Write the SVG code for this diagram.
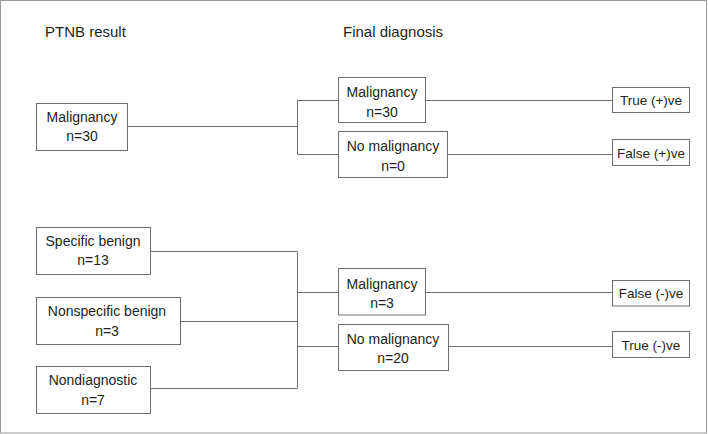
<svg xmlns="http://www.w3.org/2000/svg" width="708" height="434" viewBox="0 0 708 434">
<style>
.box{fill:#fff;stroke:#6d6d6d;stroke-width:1}
.ln{fill:none;stroke:#6d6d6d;stroke-width:1}
text{font-family:"Liberation Sans",Arial,sans-serif;fill:#231f20}
.h{font-size:15px}
.t{font-size:14px;text-anchor:middle}
.s{font-size:13.5px;text-anchor:middle}
</style>
<rect x="0.5" y="0.5" width="706" height="432.5" fill="#fff" stroke="#9a9a9a" stroke-width="1"/>
<text class="h" x="45" y="37">PTNB result</text>
<text class="h" x="343" y="37">Final diagnosis</text>
<g id="connectors">
<path class="ln" d="M127.5 126.5H297.5M297.5 100.5V154.5M297.5 100.5H338.5M297.5 154.5H338.5"/>
<path class="ln" d="M425.5 100.5H612.5M447.5 154.5H612.5"/>
<path class="ln" d="M150.5 251.5H297.5M180.5 321.5H297.5M150.5 388.5H297.5M297.5 251.5V388.5M297.5 292.5H338.5M297.5 346.5H338.5"/>
<path class="ln" d="M425.5 292.5H612.5M448.5 346.5H612.5"/>
</g>
<g id="ptnb-malignancy"><rect class="box" x="36.5" y="103.5" width="91" height="47"/><text class="t" x="82" y="122">Malignancy</text><text class="t" x="82" y="141">n=30</text></g>
<g id="fd-malignancy-30"><rect class="box" x="338.5" y="77.5" width="87" height="45"/><text class="t" x="382" y="97">Malignancy</text><text class="t" x="382" y="116.5">n=30</text></g>
<g id="fd-nomalignancy-0"><rect class="box" x="338.5" y="131.5" width="109" height="46"/><text class="t" x="393" y="150.5">No malignancy</text><text class="t" x="393" y="171">n=0</text></g>
<g id="true-pos"><rect class="box" x="612.5" y="87.5" width="77" height="25"/><text class="s" x="651" y="105">True (+)ve</text></g>
<g id="false-pos"><rect class="box" x="612.5" y="139.5" width="77" height="26"/><text class="s" x="651" y="157.5">False (+)ve</text></g>
<g id="specific-benign"><rect class="box" x="36.5" y="227.5" width="114" height="47"/><text class="t" x="93" y="245.5">Specific benign</text><text class="t" x="93" y="265">n=13</text></g>
<g id="nonspecific-benign"><rect class="box" x="36.5" y="297.5" width="144" height="47"/><text class="t" x="107" y="315.5">Nonspecific benign</text><text class="t" x="107" y="336">n=3</text></g>
<g id="nondiagnostic"><rect class="box" x="36.5" y="366.5" width="114" height="47"/><text class="t" x="93" y="385">Nondiagnostic</text><text class="t" x="93" y="405">n=7</text></g>
<g id="fd-malignancy-3"><rect class="box" x="338.5" y="268.5" width="87" height="46.5"/><text class="t" x="382" y="289">Malignancy</text><text class="t" x="382" y="308">n=3</text></g>
<g id="fd-nomalignancy-20"><rect class="box" x="338.5" y="324.5" width="110" height="46"/><text class="t" x="393" y="343.5">No malignancy</text><text class="t" x="393" y="363">n=20</text></g>
<g id="false-neg"><rect class="box" x="612.5" y="280.5" width="77" height="25.5"/><text class="s" x="651" y="298">False (-)ve</text></g>
<g id="true-neg"><rect class="box" x="612.5" y="331.5" width="77" height="26"/><text class="s" x="651" y="349.5">True (-)ve</text></g>
</svg>
